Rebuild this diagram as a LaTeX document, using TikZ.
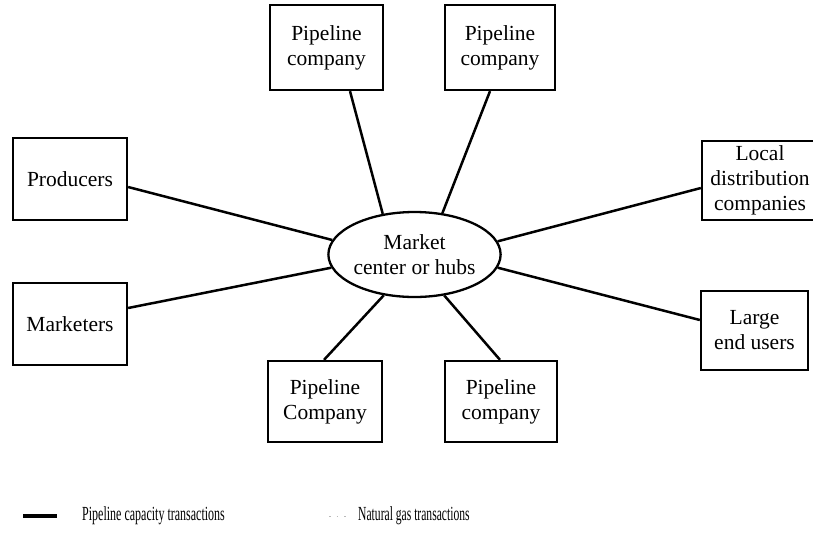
\documentclass[tikz,border=0pt]{standalone}
\usepackage{fontspec}
\setmainfont{Liberation Serif}
\usetikzlibrary{shapes.geometric}

\begin{document}
\begin{tikzpicture}[x=1pt, y=-1pt,
  party/.style={draw, line width=2.3pt, rectangle, inner sep=0pt, align=center,
    font=\fontsize{21.5}{25}\selectfont},
  hubnode/.style={draw, line width=2.3pt, ellipse, inner sep=0pt, align=center,
    minimum width=165pt, minimum height=85pt, font=\fontsize{21.5}{25}\selectfont},
  link/.style={line width=2.5pt},
  gaslink/.style={line width=0.8pt, gray!55, dash pattern=on 1.5pt off 6pt},
  legendtext/.style={anchor=west, inner sep=0pt, font=\fontsize{20}{22}\selectfont}
]
% page frame
\clip (0,0) rectangle (813,536);
\useasboundingbox (0,0) rectangle (813,536);

% central market hub
\node[hubnode] (hub) at (414.5,254.5) {Market\\center or hubs};

% surrounding parties
\node[party, minimum width=114pt, minimum height=82pt] (prod) at (70,179) {Producers};
\node[party, minimum width=114pt, minimum height=82pt] (mark) at (70,324) {Marketers};
\node[party, minimum width=113pt, minimum height=85pt] (pt1) at (326.5,47.5) {Pipeline\\company};
\node[party, minimum width=110pt, minimum height=85pt] (pt2) at (500,47.5) {Pipeline\\company};
\node[party, minimum width=114pt, minimum height=81pt] (pb1) at (325,401.5) {Pipeline\\Company};
\node[party, minimum width=112pt, minimum height=81pt] (pb2) at (501,401.5) {Pipeline\\company};
\node[party, minimum width=116pt, minimum height=79pt] (ldc) at (760,180.5) {Local\\distribution\\companies};
\node[party, minimum width=107pt, minimum height=79pt] (leu) at (754.5,330.5) {Large\\end users};

% pipeline capacity transactions
\draw[link] ([yshift=-8pt]prod.east) -- (hub.170);
\draw[link] ([yshift=16pt]mark.east) -- (hub.189);
\draw[link] ([xshift=23.5pt]pt1.south) -- (hub.128);
\draw[link] ([xshift=-10pt]pt2.south) -- (hub.56);
\draw[link] ([xshift=-1pt]pb1.north) -- (hub.233);
\draw[link] ([xshift=-1pt]pb2.north) -- (hub.306);
\draw[link] ([yshift=-7.5pt]ldc.west) -- (hub.9.5);
\draw[link] ([yshift=10.5pt]leu.west) -- (hub.351);

% legend
\coordinate (solidA) at (23,516);
\coordinate (solidB) at (57,516);
\draw[line width=3.2pt] (solidA) -- (solidB);
\node[legendtext] (solidtxt) at (82,516) {\scalebox{0.6}[1]{Pipeline capacity transactions}};

\coordinate (gasA) at (329,516);
\coordinate (gasB) at (347,516);
\draw[gaslink] (gasA) -- (gasB);
\node[legendtext] (gastxt) at (358,516) {\scalebox{0.58}[1]{Natural gas transactions}};
\end{tikzpicture}
\end{document}
